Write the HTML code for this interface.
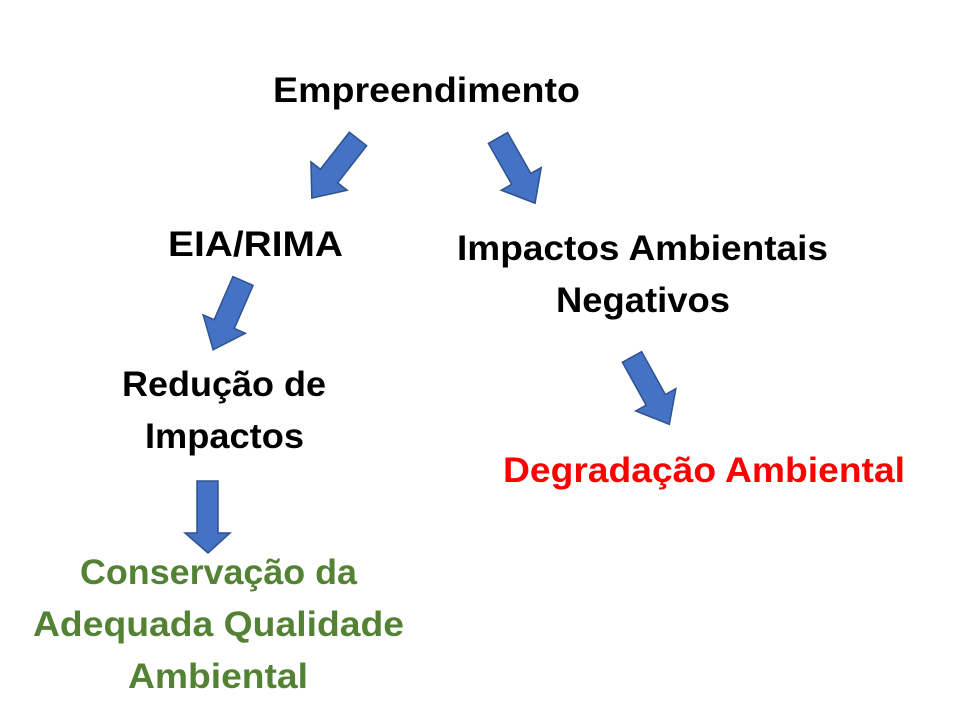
<!DOCTYPE html>
<html><head><meta charset="utf-8"><style>
html,body{margin:0;padding:0;background:#fff;}
svg{display:block;}
text{font-family:"Liberation Sans",sans-serif;font-weight:bold;font-size:35px;}
</style></head><body>
<svg width="960" height="720" viewBox="0 0 960 720">
<defs>
<polygon id="a75" points="-11,0 11,0 11,47 23,47 0,75 -23,47 -11,47" fill="#4472C4" stroke="#2F528F" stroke-width="1.5"/>
<polygon id="a77" points="-11,0 11,0 11,49 23,49 0,77 -23,49 -11,49" fill="#4472C4" stroke="#2F528F" stroke-width="1.5"/>
</defs>
<use href="#a75" transform="translate(358,139) rotate(38)"/>
<use href="#a75" transform="translate(498,138) rotate(-29.6)"/>
<use href="#a75" transform="translate(243,281) rotate(23.5)"/>
<use href="#a77" transform="translate(632,357) rotate(-29)"/>
<polygon points="197,481 218,481 218,533 230,533 208,553 185,533 197,533" fill="#4472C4" stroke="#2F528F" stroke-width="1.5"/>

<text x="273" y="102" textLength="307" lengthAdjust="spacingAndGlyphs">Empreendimento</text>
<text x="168" y="256" textLength="175" lengthAdjust="spacingAndGlyphs">EIA/RIMA</text>
<text x="457" y="260" textLength="371" lengthAdjust="spacingAndGlyphs">Impactos Ambientais</text>
<text x="556" y="312" textLength="174" lengthAdjust="spacingAndGlyphs">Negativos</text>
<text x="122" y="396" textLength="204" lengthAdjust="spacingAndGlyphs">Redução de</text>
<text x="145" y="448" textLength="159" lengthAdjust="spacingAndGlyphs">Impactos</text>
<text x="503" y="482" fill="#FF0000" textLength="402" lengthAdjust="spacingAndGlyphs">Degradação Ambiental</text>
<text x="80" y="584" fill="#548235" textLength="277" lengthAdjust="spacingAndGlyphs">Conservação da</text>
<text x="33" y="636" fill="#548235" textLength="371" lengthAdjust="spacingAndGlyphs">Adequada Qualidade</text>
<text x="128" y="688" fill="#548235" textLength="180" lengthAdjust="spacingAndGlyphs">Ambiental</text>
</svg>
</body></html>
